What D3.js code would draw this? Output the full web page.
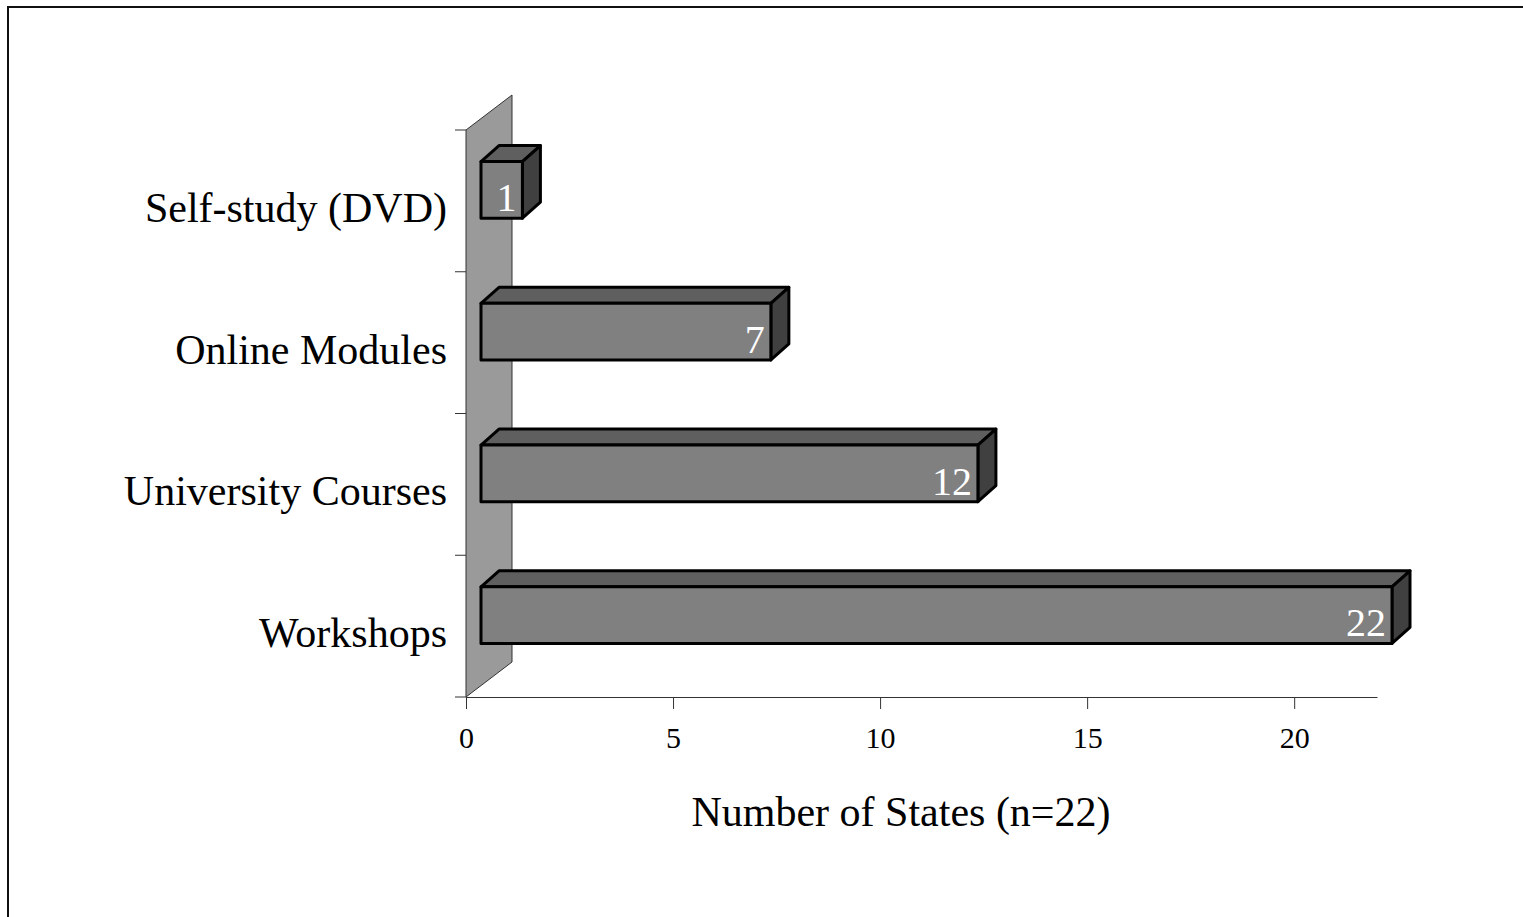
<!DOCTYPE html>
<html>
<head>
<meta charset="utf-8">
<script src="https://cdn.jsdelivr.net/npm/d3@7"></script>
<style>
  html, body { margin: 0; padding: 0; background: #fff; }
  svg { display: block; }
</style>
</head>
<body>
<svg id="chart" width="1523" height="917"></svg>
<script>
// Training delivery formats, top to bottom
const categories = ["Self-study (DVD)", "Online Modules", "University Courses", "Workshops"];
const values = [1, 7, 12, 22];
const xTicks = [0, 5, 10, 15, 20];
const xTitle = "Number of States (n=22)";

const svg = d3.select("#chart");
const serif = "'Liberation Serif', 'DejaVu Serif', serif";

// outer frame (only left and top edges fall inside the page)
svg.append("rect")
  .attr("x", 8).attr("y", 7)
  .attr("width", 1540).attr("height", 940)
  .attr("fill", "none").attr("stroke", "#111").attr("stroke-width", 2);

const x = d3.scaleLinear().domain([0, 22]).range([466, 1377]);
const y = d3.scaleBand().domain(categories).range([130, 697])
  .paddingInner(0.6).paddingOuter(0.3);

// 3-D projection offsets
const wallDepth = { dx: 46, dy: -35 };
const barShift = { dx: 15, dy: -11 };
const barDepth = { dx: 18, dy: -16 };

const [yTop, yBot] = y.range();
const x0 = x(0);

// back wall
svg.append("path")
  .attr("d", `M${x0},${yBot} L${x0},${yTop} L${x0 + wallDepth.dx},${yTop + wallDepth.dy} L${x0 + wallDepth.dx},${yBot + wallDepth.dy} Z`)
  .attr("fill", "#9a9a9a").attr("stroke", "#333").attr("stroke-width", 1);

// category tick marks on the wall edge
const bounds = d3.range(categories.length + 1).map(i => yTop + i * y.step());
svg.append("g").selectAll("line").data(bounds).join("line")
  .attr("x1", x0 - 11).attr("x2", x0)
  .attr("y1", d => d).attr("y2", d => d)
  .attr("stroke", "#333").attr("stroke-width", 1);

// category labels
svg.append("g").selectAll("text").data(categories).join("text")
  .attr("x", 447)
  .attr("y", d => y(d) + y.bandwidth() / 2 + 21)
  .attr("text-anchor", "end")
  .attr("font-family", serif).attr("font-size", 42)
  .attr("fill", "#000")
  .text(d => d);

// value axis
const axis = svg.append("g")
  .attr("transform", `translate(0,${yBot})`)
  .call(d3.axisBottom(x).tickValues(xTicks).tickSize(12).tickSizeOuter(0).tickFormat(d3.format("d")));
axis.select(".domain").attr("stroke", "#333");
axis.selectAll(".tick line").attr("stroke", "#333");
axis.selectAll(".tick text")
  .attr("y", 51).attr("dy", 0)
  .attr("font-family", serif).attr("font-size", 30).attr("fill", "#000");

// axis title
svg.append("text")
  .attr("x", 901).attr("y", 826)
  .attr("text-anchor", "middle")
  .attr("font-family", serif).attr("font-size", 42)
  .attr("fill", "#000")
  .text(xTitle);

// 3-D bars
const data = categories.map((c, i) => ({ c, v: values[i] }));
const bars = svg.append("g").selectAll("g").data(data).join("g");

function geom(d) {
  const a = x(0) + barShift.dx;
  const b = x(d.v) + barShift.dx;
  const t = y(d.c) + barShift.dy;
  const u = t + y.bandwidth();
  return { a, b, t, u };
}

bars.append("path")  // top face
  .attr("d", d => {
    const { a, b, t } = geom(d);
    return `M${a},${t} L${a + barDepth.dx},${t + barDepth.dy} L${b + barDepth.dx},${t + barDepth.dy} L${b},${t} Z`;
  })
  .attr("fill", "#5f5f5f").attr("stroke", "#000").attr("stroke-width", 3).attr("stroke-linejoin", "round");

bars.append("path")  // right side
  .attr("d", d => {
    const { b, t, u } = geom(d);
    return `M${b},${t} L${b + barDepth.dx},${t + barDepth.dy} L${b + barDepth.dx},${u + barDepth.dy} L${b},${u} Z`;
  })
  .attr("fill", "#404040").attr("stroke", "#000").attr("stroke-width", 3).attr("stroke-linejoin", "round");

bars.append("rect")  // front face
  .attr("x", d => geom(d).a)
  .attr("y", d => geom(d).t)
  .attr("width", d => geom(d).b - geom(d).a)
  .attr("height", y.bandwidth())
  .attr("fill", "#808080").attr("stroke", "#000").attr("stroke-width", 3).attr("stroke-linejoin", "round");

bars.append("text")  // value labels
  .attr("x", d => geom(d).b - 6)
  .attr("y", d => geom(d).u - 7)
  .attr("text-anchor", "end")
  .attr("font-family", serif).attr("font-size", 40)
  .attr("fill", "#fff")
  .text(d => d.v);
</script>
</body>
</html>
